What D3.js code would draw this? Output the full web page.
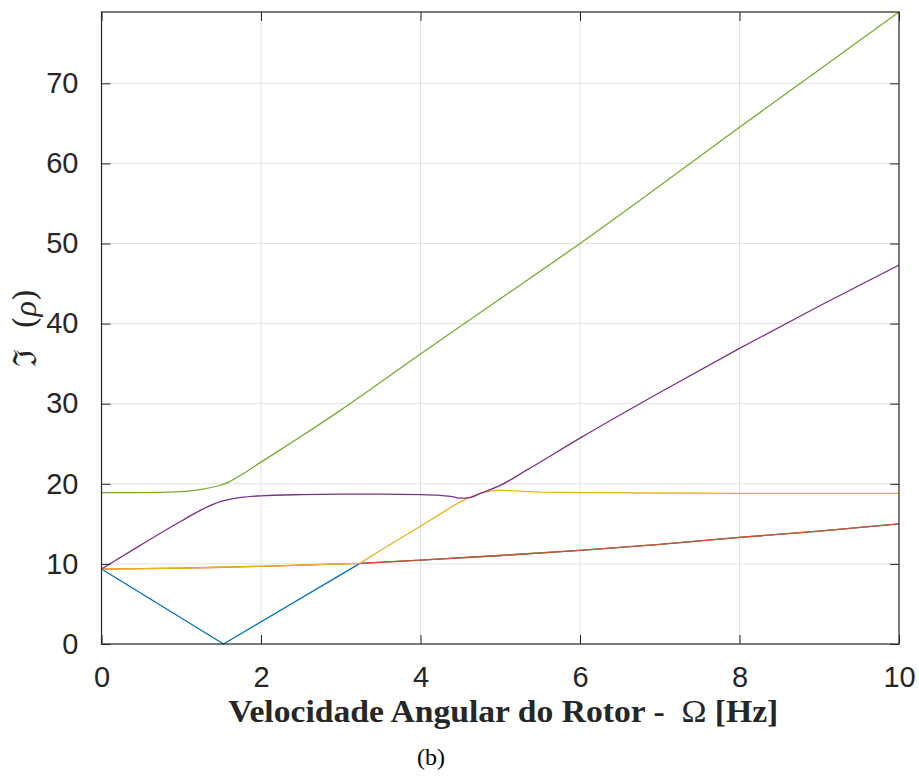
<!DOCTYPE html>
<html>
<head>
<meta charset="utf-8">
<script src="https://cdn.jsdelivr.net/npm/d3@7"></script>
<style>
  html, body { margin: 0; padding: 0; background: #fff; }
  svg { display: block; }
</style>
</head>
<body>
<svg id="chart" width="919" height="776"></svg>
<script>
// Rotor speed (Hz) sample points and imaginary parts of the eigenvalues for each mode
const blueOmega   = [0, 1.53, 3.24, 4, 5, 6, 7, 8, 9, 10];
const blueValues  = [9.36, 0, 10.07, 10.48, 11.05, 11.7, 12.45, 13.3, 14.1, 15.0];

const redOmega    = [0, 0.5, 1, 1.5, 2, 2.5, 3, 3.24, 4, 5, 6, 7, 8, 9, 10];
const redValues   = [9.36, 9.4, 9.48, 9.58, 9.7, 9.85, 10.0, 10.07, 10.48, 11.05, 11.7, 12.45, 13.3, 14.1, 15.0];

const yellowOmega  = [0, 0.5, 1, 1.5, 2, 2.5, 3, 3.24, 3.5, 4, 4.25, 4.4, 4.5, 4.6, 4.7, 4.8, 4.9, 5.0, 5.15, 5.3, 5.5, 6, 7, 8, 9, 10];
const yellowValues = [9.36, 9.4, 9.48, 9.58, 9.7, 9.85, 10.0, 10.07, 11.7, 14.7, 16.25, 17.2, 17.75, 18.25, 18.65, 18.95, 19.12, 19.2, 19.15, 19.05, 18.97, 18.9, 18.85, 18.8, 18.8, 18.8];

const purpleOmega  = [0, 0.5, 1, 1.25, 1.5, 1.75, 2, 2.5, 3, 3.5, 4, 4.25, 4.4, 4.5, 4.6, 4.75, 5.0, 5.33, 6, 7, 8, 9, 10];
const purpleValues = [9.36, 12.4, 15.35, 16.75, 17.8, 18.3, 18.5, 18.65, 18.7, 18.7, 18.65, 18.55, 18.4, 18.2, 18.25, 18.8, 19.8, 21.7, 25.7, 31.4, 36.9, 42.2, 47.3];

const greenOmega   = [0, 0.5, 1, 1.25, 1.5, 1.6, 1.75, 2, 2.5, 3, 4, 5, 6, 7, 8, 9, 10];
const greenValues  = [18.9, 18.9, 19.02, 19.3, 19.85, 20.25, 21.1, 22.7, 25.9, 29.2, 36.2, 43.1, 50.0, 57.2, 64.5, 71.7, 78.9];

const xTicks = [0, 2, 4, 6, 8, 10];
const yTicks = [0, 10, 20, 30, 40, 50, 60, 70];

const seriesColors = ["#0072BD", "#D95319", "#EDB120", "#7E2F8E", "#77AC30"];

const series = [
  { omega: blueOmega,   values: blueValues,   curve: d3.curveLinear },
  { omega: redOmega,    values: redValues,    curve: d3.curveLinear },
  { omega: yellowOmega, values: yellowValues, curve: d3.curveLinear },
  { omega: purpleOmega, values: purpleValues, curve: d3.curveMonotoneX },
  { omega: greenOmega,  values: greenValues,  curve: d3.curveMonotoneX }
];

const margin = { left: 101.5, right: 20, top: 12, bottom: 132 };
const W = 919, H = 776;
const innerW = W - margin.left - margin.right;
const innerH = H - margin.top - margin.bottom;

const yMax = d3.max(greenValues);

const x = d3.scaleLinear().domain([0, 10]).range([margin.left, margin.left + innerW]);
const y = d3.scaleLinear().domain([0, yMax]).range([margin.top + innerH, margin.top]);

const svg = d3.select("#chart");
const axisColor = "#262626";
const tickLen = 9;

// Grid lines
const grid = svg.append("g").attr("stroke", "#e2e2e2").attr("stroke-width", 1);
xTicks.filter(t => t > 0 && t < 10).forEach(t => {
  grid.append("line").attr("x1", x(t)).attr("x2", x(t)).attr("y1", y(0)).attr("y2", y(yMax));
});
yTicks.filter(t => t > 0).forEach(t => {
  grid.append("line").attr("x1", x(0)).attr("x2", x(10)).attr("y1", y(t)).attr("y2", y(t));
});

// Data curves
svg.append("clipPath").attr("id", "plotClip")
  .append("rect").attr("x", x(0)).attr("y", y(yMax) - 1).attr("width", innerW).attr("height", innerH + 2);

const curves = svg.append("g").attr("clip-path", "url(#plotClip)");
series.forEach((s, i) => {
  const pts = s.omega.map((o, k) => [o, s.values[k]]);
  const line = d3.line().x(d => x(d[0])).y(d => y(d[1])).curve(s.curve);
  curves.append("path")
    .attr("d", line(pts))
    .attr("fill", "none")
    .attr("stroke", seriesColors[i])
    .attr("stroke-width", 1.3)
    .attr("stroke-linejoin", "round");
});

// Axes (ticks pointing inward, mirrored on top and right)
const tickFont = "'Liberation Sans', Arial, Helvetica, sans-serif";
const bottomAxis = d3.axisBottom(x).tickValues(xTicks).tickSizeInner(-tickLen).tickSizeOuter(0).tickPadding(22);
const topAxis = d3.axisTop(x).tickValues(xTicks).tickSizeInner(-tickLen).tickSizeOuter(0).tickFormat("");
const leftAxis = d3.axisLeft(y).tickValues(yTicks).tickSizeInner(-tickLen).tickSizeOuter(0).tickPadding(23);
const rightAxis = d3.axisRight(y).tickValues(yTicks).tickSizeInner(-tickLen).tickSizeOuter(0).tickFormat("");

function styleAxis(g) {
  g.select(".domain").remove();
  g.selectAll(".tick line").attr("stroke", axisColor).attr("stroke-width", 1);
  g.selectAll(".tick text").attr("fill", axisColor).attr("font-family", tickFont).attr("font-size", 29);
}

svg.append("g").attr("transform", `translate(0,${y(0)})`).call(bottomAxis).call(styleAxis);
svg.append("g").attr("transform", `translate(0,${y(yMax)})`).call(topAxis).call(styleAxis);
svg.append("g").attr("transform", `translate(${x(0)},0)`).call(leftAxis).call(styleAxis);
svg.append("g").attr("transform", `translate(${x(10)},0)`).call(rightAxis).call(styleAxis);

// Axes box
svg.append("rect")
  .attr("x", x(0)).attr("y", y(yMax))
  .attr("width", x(10) - x(0)).attr("height", y(0) - y(yMax))
  .attr("fill", "none").attr("stroke", axisColor).attr("stroke-width", 1.2);

// Y label
const yLabel = svg.append("text")
  .attr("transform", `translate(36,${(y(0) + y(yMax)) / 2}) rotate(-90)`)
  .attr("text-anchor", "middle")
  .attr("font-family", "'DejaVu Serif', 'Liberation Serif', serif")
  .attr("font-size", 32)
  .attr("fill", axisColor);
yLabel.append("tspan").text("ℑ\u00a0\u00a0(");
yLabel.append("tspan").attr("font-style", "italic").attr("font-family", "'Liberation Serif', serif").text("ρ");
yLabel.append("tspan").text(")");

// X label
const xLabel = svg.append("text")
  .attr("x", (x(0) + x(10)) / 2 + 3)
  .attr("y", 722)
  .attr("text-anchor", "middle")
  .attr("font-family", "'Liberation Serif', 'Times New Roman', serif")
  .attr("font-size", 32)
  .attr("textLength", 550)
  .attr("lengthAdjust", "spacingAndGlyphs")
  .attr("fill", axisColor);
xLabel.append("tspan").attr("font-weight", "bold").text("Velocidade Angular do Rotor -\u00a0\u00a0");
xLabel.append("tspan").attr("font-weight", "normal").text("Ω");
xLabel.append("tspan").attr("font-weight", "bold").text(" [Hz]");

// Panel caption
svg.append("text")
  .attr("x", 431).attr("y", 765)
  .attr("text-anchor", "middle")
  .attr("font-family", "'Liberation Serif', 'Times New Roman', serif")
  .attr("font-size", 24)
  .attr("fill", "#000")
  .text("(b)");
</script>
</body>
</html>
